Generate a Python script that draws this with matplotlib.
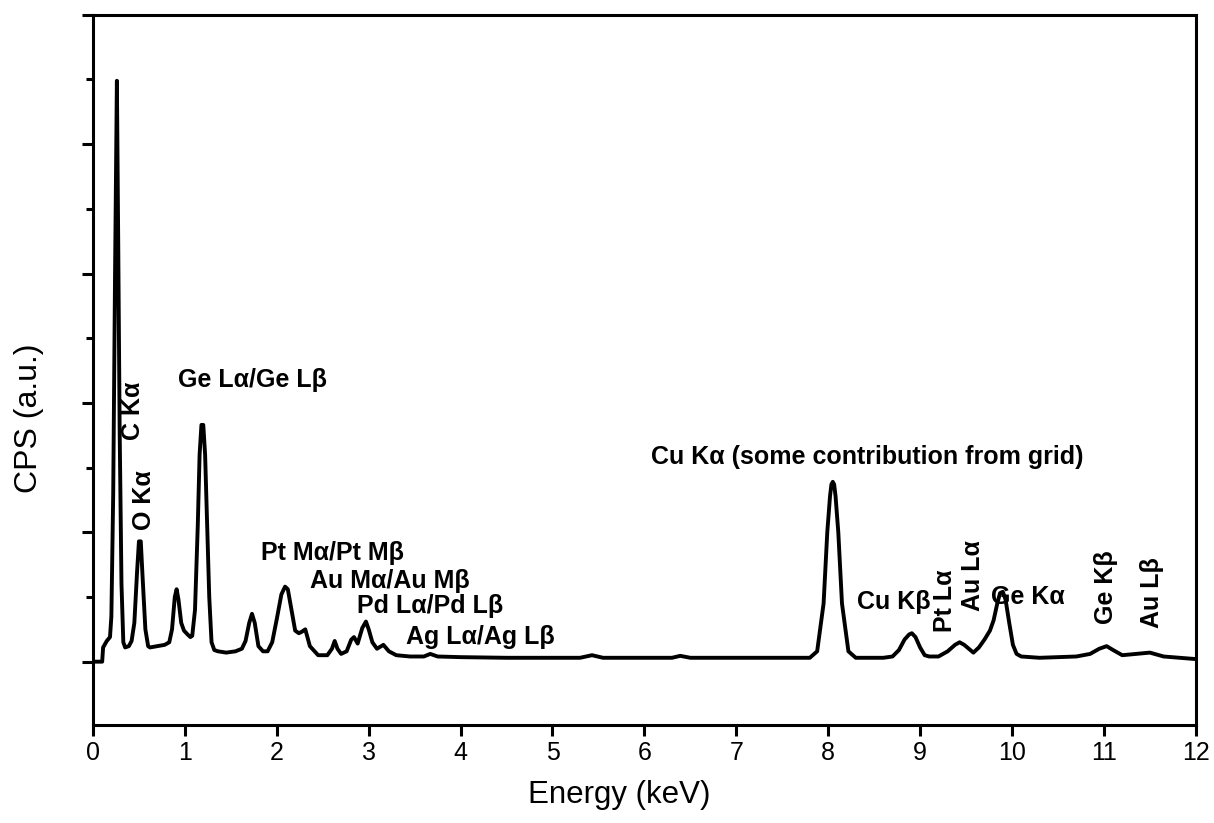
import matplotlib
matplotlib.use("Agg")
import matplotlib.pyplot as plt
from matplotlib.ticker import MultipleLocator, NullFormatter

plt.rcParams['font.family'] = ['Liberation Sans', 'DejaVu Sans']

# EDS spectrum, traced point by point (energy in keV, counts in a.u.)
energy = [0.00, 0.10, 0.11, 0.15, 0.185, 0.20, 0.22, 0.24, 0.26, 0.275, 0.29, 0.31, 0.33,
          0.35, 0.39, 0.42, 0.45, 0.48, 0.50, 0.52, 0.54, 0.57, 0.60, 0.62, 0.70, 0.78,
          0.83, 0.86, 0.89, 0.91, 0.93, 0.96, 0.99, 1.03, 1.06, 1.08, 1.11, 1.14, 1.16,
          1.18, 1.20, 1.22, 1.24, 1.265, 1.29, 1.32, 1.36, 1.45, 1.55, 1.62, 1.66, 1.70,
          1.73, 1.76, 1.80, 1.85, 1.90, 1.95, 2.00, 2.05, 2.09, 2.12, 2.16, 2.20, 2.24,
          2.27, 2.31, 2.36, 2.45, 2.55, 2.60, 2.63, 2.66, 2.70, 2.76, 2.81, 2.84, 2.88,
          2.93, 2.97, 3.00, 3.04, 3.09, 3.16, 3.22, 3.30, 3.45, 3.60, 3.67, 3.75, 4.00,
          4.50, 5.00, 5.30, 5.43, 5.55, 6.00, 6.30, 6.39, 6.50, 7.00, 7.50, 7.80, 7.88,
          7.95, 7.99, 8.02, 8.035, 8.05, 8.065, 8.08, 8.11, 8.15, 8.22, 8.30, 8.60, 8.70,
          8.77, 8.83, 8.88, 8.91, 8.95, 9.00, 9.05, 9.10, 9.20, 9.30, 9.38, 9.43, 9.48,
          9.53, 9.58, 9.64, 9.70, 9.76, 9.80, 9.84, 9.87, 9.90, 9.93, 9.97, 10.01, 10.05,
          10.10, 10.30, 10.70, 10.85, 10.95, 11.03, 11.10, 11.20, 11.35, 11.50, 11.65, 12.00]
cps = [0.00, 0.00, 0.11, 0.16, 0.19, 0.35, 1.30, 3.00, 4.49, 3.20, 1.80, 0.60, 0.15,
       0.11, 0.12, 0.16, 0.30, 0.70, 0.93, 0.93, 0.65, 0.25, 0.12, 0.11, 0.12, 0.13,
       0.15, 0.25, 0.50, 0.56, 0.48, 0.30, 0.24, 0.21, 0.19, 0.20, 0.40, 1.05, 1.60,
       1.83, 1.83, 1.60, 1.10, 0.50, 0.15, 0.09, 0.08, 0.07, 0.08, 0.10, 0.16, 0.30,
       0.37, 0.30, 0.12, 0.08, 0.08, 0.15, 0.33, 0.52, 0.58, 0.56, 0.40, 0.24, 0.22,
       0.23, 0.25, 0.12, 0.05, 0.05, 0.10, 0.16, 0.10, 0.06, 0.08, 0.17, 0.19, 0.14,
       0.26, 0.31, 0.25, 0.15, 0.10, 0.13, 0.08, 0.05, 0.04, 0.04, 0.06, 0.04, 0.035,
       0.03, 0.03, 0.03, 0.05, 0.03, 0.03, 0.03, 0.045, 0.03, 0.03, 0.03, 0.03, 0.08,
       0.45, 1.00, 1.28, 1.37, 1.39, 1.37, 1.28, 1.00, 0.45, 0.08, 0.03, 0.03, 0.04,
       0.09, 0.17, 0.21, 0.22, 0.19, 0.11, 0.05, 0.04, 0.04, 0.08, 0.13, 0.15, 0.13,
       0.10, 0.07, 0.11, 0.17, 0.24, 0.32, 0.45, 0.53, 0.54, 0.48, 0.30, 0.13, 0.06,
       0.04, 0.03, 0.04, 0.06, 0.10, 0.12, 0.09, 0.05, 0.06, 0.07, 0.04, 0.02]

# peak labels: text, energy, height, rotated?
labels = ["C Kα", "O Kα", "Ge Lα/Ge Lβ", "Pt Mα/Pt Mβ", "Au Mα/Au Mβ", "Pd Lα/Pd Lβ",
          "Ag Lα/Ag Lβ", "Cu Kα (some contribution from grid)", "Cu Kβ", "Pt Lα",
          "Au Lα", "Ge Kα", "Ge Kβ", "Au Lβ"]
label_e = [0.435, 0.56, 0.925, 1.83, 2.36, 2.87, 3.41, 6.07, 8.31, 9.27, 9.58, 9.77, 11.02, 11.52]
label_v = [1.71, 1.02, 2.18, 0.84, 0.62, 0.43, 0.19, 1.58, 0.46, 0.23, 0.39, 0.50, 0.29, 0.26]
label_rot = [True, True, False, False, False, False, False, False, False, True, True, False, True, True]

fig = plt.figure(figsize=(12.14, 8.23), dpi=100)
ax = fig.add_axes([0.0766, 0.119, 0.9084, 0.863])
ax.plot(energy, cps, color='black', lw=2.8, solid_joinstyle='round')

for txt, e, v, rot in zip(labels, label_e, label_v, label_rot):
    if rot:
        ax.text(e, v, txt, rotation=90, ha='center', va='bottom',
                fontsize=18, fontweight='bold')
    else:
        ax.text(e, v, txt, ha='left', va='center', fontsize=18, fontweight='bold')

ax.set_xlim(0, 12)
ax.set_ylim(-0.49, 5.0)
ax.xaxis.set_major_locator(MultipleLocator(1))
ax.yaxis.set_major_locator(MultipleLocator(1))
ax.yaxis.set_minor_locator(MultipleLocator(0.5))
ax.yaxis.set_major_formatter(NullFormatter())
ax.tick_params(axis='both', which='major', direction='out', width=2.2, length=8,
               labelsize=18, top=False, right=False)
ax.tick_params(axis='y', which='minor', direction='out', width=2.2, length=5)
for sp in ax.spines.values():
    sp.set_linewidth(2.2)

ax.set_xlabel("Energy (keV)", fontsize=22.5)
ax.set_ylabel("CPS (a.u.)", fontsize=23)
ax.xaxis.set_label_coords(0.477, -0.077)
ax.yaxis.set_label_coords(-0.044, 0.432)

fig.savefig("out.png", dpi=100)
